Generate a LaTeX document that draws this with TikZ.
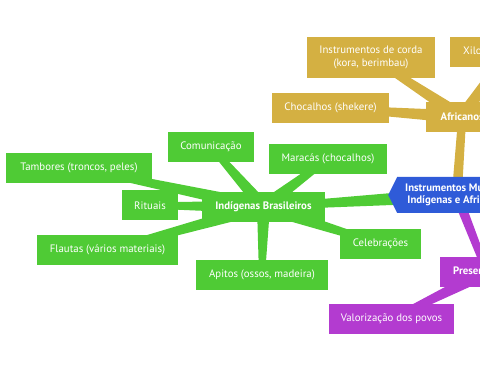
\documentclass[tikz,border=0pt]{standalone}
\usepackage{fontspec}
\setmainfont{PT Sans}
\usepackage{tikz}
\usetikzlibrary{shapes.symbols,backgrounds,calc}
\definecolor{leaf}{HTML}{4FCB35}
\definecolor{ochre}{HTML}{D4B042}
\definecolor{royal}{HTML}{2F5BD8}
\definecolor{violet}{HTML}{B33BD0}
% tapered branch: colour, parent, child, half width at parent, half width at child
\newcommand{\branch}[5]{\fill[#1] ($(#2)!#4!90:(#3)$) -- ($(#3)!#5!-90:(#2)$)
  -- ($(#3)!#5!90:(#2)$) -- ($(#2)!#4!-90:(#3)$) -- cycle;}
\tikzset{
  topic/.style={rectangle, text=white, align=center, inner sep=0pt, minimum height=30pt},
  indbox/.style={topic, fill=leaf},
  afrbox/.style={topic, fill=ochre},
  presbox/.style={topic, fill=violet},
  headbox/.style={font=\fontsize{10.8}{12.5}\selectfont\bfseries},
  hub/.style={signal, signal to=west, signal pointer angle=127, fill=royal, text=white,
              align=center, minimum height=36pt, inner xsep=8pt, inner ysep=3pt,
              font=\fontsize{10.8}{12}\selectfont\bfseries},
}

\begin{document}
\begin{tikzpicture}[x=1pt, y=-1pt, every node/.style={font=\fontsize{10.8}{12.5}\selectfont}]
\useasboundingbox (0,0) rectangle (480,379);
\clip (0,0) rectangle (480,379);
\node[hub, anchor=west] (hub) at (388,195) {Instrumentos Musicais\\Indígenas e Africanos};

% indigenas
\node[indbox, headbox, minimum width=123pt] (ind) at (263.5,207) {Indígenas Brasileiros};
\node[indbox, minimum width=146pt] (tamb) at (79,168) {Tambores (troncos, peles)};
\node[indbox, minimum width=86pt] (comu) at (211,147) {Comunicação};
\node[indbox, minimum width=56pt] (ritu) at (150,205.5) {Rituais};
\node[indbox, minimum width=141pt] (flau) at (107.5,250) {Flautas (vários materiais)};
\node[indbox, minimum width=132pt] (apit) at (262,275) {Apitos (ossos, madeira)};
\node[indbox, minimum width=118pt] (mara) at (328,159) {Maracás (chocalhos)};
\node[indbox, minimum width=81pt] (cele) at (380.5,244) {Celebrações};

% africanos
\node[afrbox, headbox, anchor=west, minimum width=72pt] (afr) at (426,117) {Africanos};
\node[afrbox, minimum width=128pt, minimum height=41pt] (cord) at (371,57.5) {Instrumentos de corda\\(kora, berimbau)};
\node[afrbox, minimum width=117pt] (choc) at (330.5,108) {Chocalhos (shekere)};
\node[afrbox, anchor=west, inner xsep=13pt] (xilo) at (450,52) {Xilofones (balafon)};

% presenca
\node[presbox, headbox, anchor=west, inner xsep=13pt] (pres) at (440,272) {Presença atual};
\node[presbox, minimum width=125pt] (valo) at (391.5,319) {Valorização dos povos};

\begin{scope}[on background layer]
\clip (0,0) rectangle (480,379);
\branch{leaf}{hub}{ind}{7.5pt}{3pt}
\branch{ochre}{hub}{afr}{5pt}{4pt}
\branch{violet}{hub}{pres}{5pt}{3.5pt}
\foreach \leafnode in {tamb,comu,ritu,flau,apit,mara,cele}
  {\branch{leaf}{ind}{\leafnode}{6.5pt}{3pt}}
\foreach \leafnode in {cord,choc,xilo}
  {\branch{ochre}{afr}{\leafnode}{6.5pt}{3pt}}
\branch{violet}{pres}{valo}{6.5pt}{3pt}
\end{scope}
\end{tikzpicture}
\end{document}
